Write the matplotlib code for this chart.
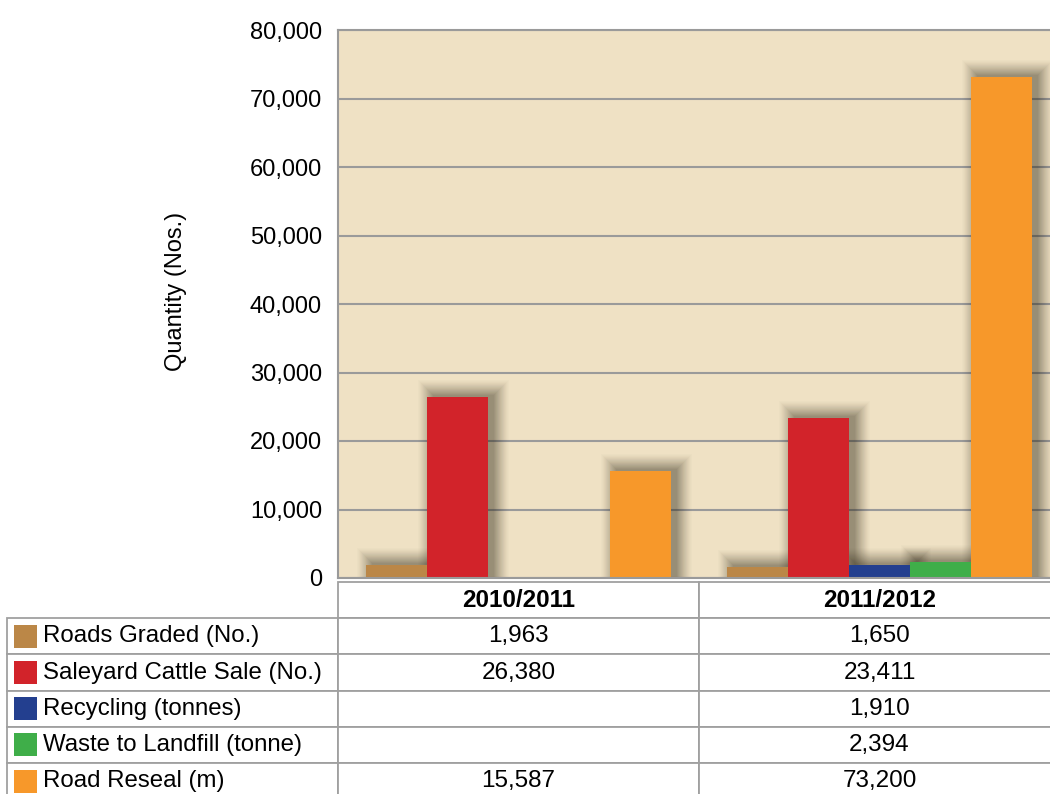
import numpy as np
import matplotlib
matplotlib.use('Agg')
import matplotlib.pyplot as plt
from matplotlib.table import Table
from matplotlib.patches import Rectangle

plt.rcParams['font.family'] = ['Liberation Sans', 'DejaVu Sans']

# data
periods = ['2010/2011', '2011/2012']
series = ['Roads Graded (No.)', 'Saleyard Cattle Sale (No.)', 'Recycling (tonnes)',
          'Waste to Landfill (tonne)', 'Road Reseal (m)']
roads_graded = [1963, 1650]
cattle_sale = [26380, 23411]
recycling = [np.nan, 1910]
landfill = [np.nan, 2394]
road_reseal = [15587, 73200]
values = [roads_graded, cattle_sale, recycling, landfill, road_reseal]
colors = ['#BB8747', '#D2232A', '#233F8F', '#3FAE49', '#F7982A']

W, H = 1050, 794
fig = plt.figure(figsize=(W / 100, H / 100), dpi=100)

# axes in pixel terms (axes extends past right edge like the cropped original)
ax_l, ax_r, ax_t, ax_b = 338, 1060, 30, 578
aw, ah = ax_r - ax_l, ax_b - ax_t
ax = fig.add_axes([ax_l / W, 1 - ax_b / H, aw / W, ah / H])
ax.set_facecolor('#EFE1C4')
ax.set_xlim(-0.5, 1.5)
ax.set_ylim(0, 80000)

px_x = 2.0 / aw       # data units per pixel, x
px_y = 80000 / ah     # data units per pixel, y

x = np.arange(len(periods))
bw = 61 * px_x

for k, (vals, c) in enumerate(zip(values, colors)):
    xs = x + (k - 2) * bw
    v = np.nan_to_num(np.array(vals, dtype=float))
    # soft drop shadow: stacked, widened translucent copies
    for d in range(0, 16):
        ax.bar(xs + 6 * px_x, np.where(v > 0, v + (2 + d) * px_y, 0),
               width=bw + 2 * d * px_x, color='#2e2818', alpha=0.012 + 0.0025 * (16 - d),
               linewidth=0, zorder=1)
    ax.bar(xs, v, width=bw, color=c, linewidth=0, zorder=2)

ax.set_yticks(np.arange(0, 80001, 10000))
ax.yaxis.set_major_formatter(matplotlib.ticker.FuncFormatter(lambda v, p: f'{int(v):,}'))
ax.tick_params(axis='y', length=0, pad=11.5, labelsize=17)
ax.set_xticks([])
ax.grid(axis='y', color='#9a9a9a', linewidth=1.5, zorder=0)
ax.set_axisbelow(True)
for s in ['left', 'bottom', 'top']:
    ax.spines[s].set_color('#9a9a9a')
    ax.spines[s].set_linewidth(1.5)
ax.spines['right'].set_visible(False)

ax.set_ylabel('Quantity (Nos.)', fontsize=17, va='center')
ax.yaxis.set_label_coords((176 - ax_l) / aw, (ax_b - 291) / ah)

# data table below the plot; bbox covers the value columns only
tab_top, row_h, lab_l = 582, 36.2, 7
n_rows = len(series) + 1
tab = Table(ax, bbox=[0, -(tab_top + n_rows * row_h - ax_b) / ah, 1, n_rows * row_h / ah])
lab_w = (ax_l - lab_l) / aw
col_w = 0.5
rh = row_h / ah
for j, p in enumerate(periods):
    cell = tab.add_cell(0, j, width=col_w, height=rh, text=p, loc='center')
    cell.get_text().set_fontweight('bold')
for i, (name, vals) in enumerate(zip(series, values)):
    cell = tab.add_cell(i + 1, -1, width=lab_w, height=rh, text=name, loc='left')
    cell.PAD = 36 / (ax_l - lab_l)
    for j, v in enumerate(vals):
        txt = '' if np.isnan(v) else f'{int(v):,}'
        tab.add_cell(i + 1, j, width=col_w, height=rh, text=txt, loc='center')
tab.auto_set_font_size(False)
tab.set_fontsize(17.5)
for (r, c), cell in tab.get_celld().items():
    cell.set_edgecolor('#a0a0a0')
    cell.set_linewidth(1.3)
    cell.set_facecolor('white')
    if r == 0:
        cell.get_text().set_fontsize(17.5)
    elif c == -1:
        cell.get_text().set_fontsize(17.3)
ax.add_table(tab)

# colour keys inside the row label cells
for i, c in enumerate(colors):
    yc = tab_top + row_h * (i + 1.5)
    ax.add_patch(Rectangle(((14 - ax_l) / aw, (ax_b - yc - 11.5) / ah), 23 / aw, 23 / ah,
                           transform=ax.transAxes, facecolor=c, edgecolor='none',
                           clip_on=False, zorder=5))

fig.savefig('out.png', dpi=100)
